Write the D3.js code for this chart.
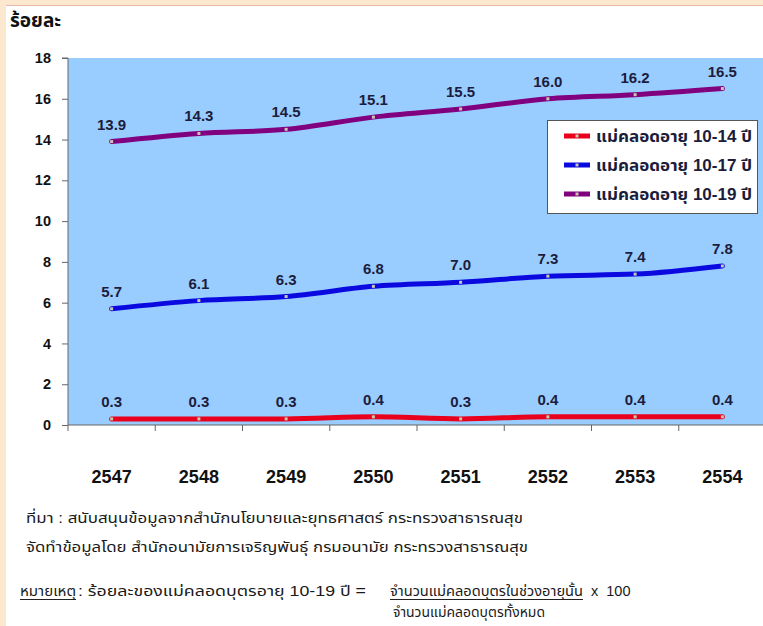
<!DOCTYPE html>
<meta charset="utf-8">
<style>
body { margin: 0; background: #fff; }
svg { display: block; }
text { font-family: "Liberation Sans", Arial, "Noto Sans Thai", sans-serif; }
.lbl { font-weight: bold; font-size: 15px; fill: #1c1c3c; }
.foot { font-size: 14.5px; fill: #1a1a1a; }
</style>
<svg width="763" height="626"></svg>
<script src="https://cdnjs.cloudflare.com/ajax/libs/d3/7.8.5/d3.min.js"></script>
<script>

const years = ["2547", "2548", "2549", "2550", "2551", "2552", "2553", "2554"];
const age1014 = [0.3, 0.3, 0.3, 0.4, 0.3, 0.4, 0.4, 0.4];
const age1017 = [5.7, 6.1, 6.3, 6.8, 7.0, 7.3, 7.4, 7.8];
const age1019 = [13.9, 14.3, 14.5, 15.1, 15.5, 16.0, 16.2, 16.5];
const seriesNames = ["แม่คลอดอายุ 10-14 ปี", "แม่คลอดอายุ 10-17 ปี", "แม่คลอดอายุ 10-19 ปี"];
const yTicks = [0, 2, 4, 6, 8, 10, 12, 14, 16, 18];

const series = [
  { name: seriesNames[0], values: age1014, color: "#e8001c" },
  { name: seriesNames[1], values: age1017, color: "#0a0ae0" },
  { name: seriesNames[2], values: age1019, color: "#800080" }
];

var svg = d3.select("svg");

// page frame
svg.append("rect").attr("x", 0).attr("y", 0).attr("width", 763).attr("height", 5).attr("fill", "#fbe8cf");
svg.append("rect").attr("x", 0).attr("y", 0).attr("width", 6).attr("height", 626).attr("fill", "#fbe8cf");
svg.append("line").attr("x1", 6).attr("x2", 763).attr("y1", 5.5).attr("y2", 5.5)
  .attr("stroke", "#e9b9ab").attr("stroke-width", 1);

var x = d3.scaleBand().domain(years).range([68, 766]);
var y = d3.scaleLinear().domain([0, 18]).range([425, 58]);

// plot area
svg.append("rect")
  .attr("x", 68).attr("y", y(18))
  .attr("width", 763 - 68).attr("height", y(0) - y(18))
  .attr("fill", "#99ccff");

// y axis
var yAxis = svg.append("g")
  .attr("transform", "translate(68,0)")
  .call(d3.axisLeft(y).tickValues(yTicks).tickSize(6).tickPadding(11).tickFormat(d3.format("d")));
yAxis.select(".domain").attr("stroke", "#666").attr("d", "M-6," + y(18) + "H0V" + y(0));
yAxis.selectAll(".tick line").attr("stroke", "#666");
yAxis.selectAll("text")
  .attr("font-family", "'Liberation Sans', Arial, sans-serif")
  .attr("font-weight", "bold").attr("font-size", 14.5).attr("fill", "#111");

// x axis
var xAxis = svg.append("g")
  .attr("transform", "translate(0," + y(0) + ")")
  .call(d3.axisBottom(x).tickSize(0).tickPadding(45));
xAxis.select(".domain").attr("stroke", "#666").attr("d", "M68,0H763");
xAxis.selectAll("text")
  .attr("font-family", "'Liberation Sans', Arial, sans-serif")
  .attr("font-weight", "bold").attr("font-size", 18).attr("fill", "#111");
xAxis.selectAll(".sep")
  .data(years)
  .enter().append("line")
  .attr("x1", d => x(d)).attr("x2", d => x(d))
  .attr("y1", 0).attr("y2", 6)
  .attr("stroke", "#666");

// y title
svg.append("text")
  .attr("x", 10).attr("y", 27)
  .attr("font-weight", "bold").attr("font-size", 19).attr("fill", "#111")
  .text("ร้อยละ");

var line = d3.line()
  .x((d, i) => x(years[i]) + x.bandwidth() / 2)
  .y(d => y(d))
  .curve(d3.curveMonotoneX);

series.forEach(function(s) {
  svg.append("path")
    .datum(s.values)
    .attr("d", line)
    .attr("fill", "none")
    .attr("stroke", s.color)
    .attr("stroke-width", 5)
    .attr("stroke-linejoin", "round")
    .attr("stroke-linecap", "round");

  svg.append("g").selectAll("rect")
    .data(s.values)
    .enter().append("rect")
    .attr("x", (d, i) => x(years[i]) + x.bandwidth() / 2 - 1.5)
    .attr("y", d => y(d) - 1.5)
    .attr("width", 3).attr("height", 3)
    .attr("fill", "#c8c8b0");

  svg.append("g").selectAll("text")
    .data(s.values)
    .enter().append("text")
    .attr("class", "lbl")
    .attr("x", (d, i) => x(years[i]) + x.bandwidth() / 2)
    .attr("y", d => y(d) - 12)
    .attr("text-anchor", "middle")
    .text(d => d3.format(".1f")(d));
});

// legend
var legend = svg.append("g");
legend.append("rect")
  .attr("x", 547.5).attr("y", 120.5).attr("width", 210).attr("height", 93)
  .attr("fill", "#fff").attr("stroke", "#555").attr("stroke-width", 1);

var rowY = [136, 165, 194];
series.forEach(function(s, i) {
  legend.append("line")
    .attr("x1", 564).attr("x2", 590)
    .attr("y1", rowY[i]).attr("y2", rowY[i])
    .attr("stroke", s.color).attr("stroke-width", 5);
  legend.append("rect")
    .attr("x", 575.5).attr("y", rowY[i] - 1.5).attr("width", 3).attr("height", 3)
    .attr("fill", "#c8c8b0");
  legend.append("text")
    .attr("x", 596).attr("y", rowY[i] + 6)
    .attr("font-size", 16).attr("font-weight", "bold").attr("fill", "#1c1c3c")
    .attr("textLength", 156).attr("lengthAdjust", "spacingAndGlyphs")
    .text(s.name);
});

// footer notes
svg.append("text").attr("class", "foot")
  .attr("x", 26).attr("y", 523)
  .attr("textLength", 497).attr("lengthAdjust", "spacingAndGlyphs")
  .text("ที่มา : สนับสนุนข้อมูลจากสำนักนโยบายและยุทธศาสตร์ กระทรวงสาธารณสุข");
svg.append("text").attr("class", "foot")
  .attr("x", 26).attr("y", 552)
  .attr("textLength", 502).attr("lengthAdjust", "spacingAndGlyphs")
  .text("จัดทำข้อมูลโดย สำนักอนามัยการเจริญพันธุ์ กรมอนามัย กระทรวงสาธารณสุข");

var note = svg.append("g");
note.append("text").attr("class", "foot")
  .attr("x", 20).attr("y", 596)
  .attr("textLength", 56).attr("lengthAdjust", "spacingAndGlyphs")
  .text("หมายเหตุ");
note.append("line").attr("x1", 20).attr("x2", 76).attr("y1", 599.5).attr("y2", 599.5)
  .attr("stroke", "#222").attr("stroke-width", 1);
note.append("text").attr("class", "foot")
  .attr("x", 78).attr("y", 596)
  .attr("textLength", 288).attr("lengthAdjust", "spacingAndGlyphs")
  .text(": ร้อยละของแม่คลอดบุตรอายุ 10-19 ปี  =");
note.append("text").attr("class", "foot")
  .attr("x", 390).attr("y", 596)
  .attr("textLength", 193).attr("lengthAdjust", "spacingAndGlyphs")
  .text("จำนวนแม่คลอดบุตรในช่วงอายุนั้น");
note.append("line").attr("x1", 390).attr("x2", 583).attr("y1", 599.5).attr("y2", 599.5)
  .attr("stroke", "#222").attr("stroke-width", 1);
note.append("text").attr("class", "foot")
  .attr("x", 591).attr("y", 596)
  .attr("font-size", 16)
  .attr("xml:space", "preserve")
  .text("x  100");
note.append("text").attr("class", "foot")
  .attr("x", 393).attr("y", 617)
  .attr("textLength", 152).attr("lengthAdjust", "spacingAndGlyphs")
  .text("จำนวนแม่คลอดบุตรทั้งหมด");

</script>
